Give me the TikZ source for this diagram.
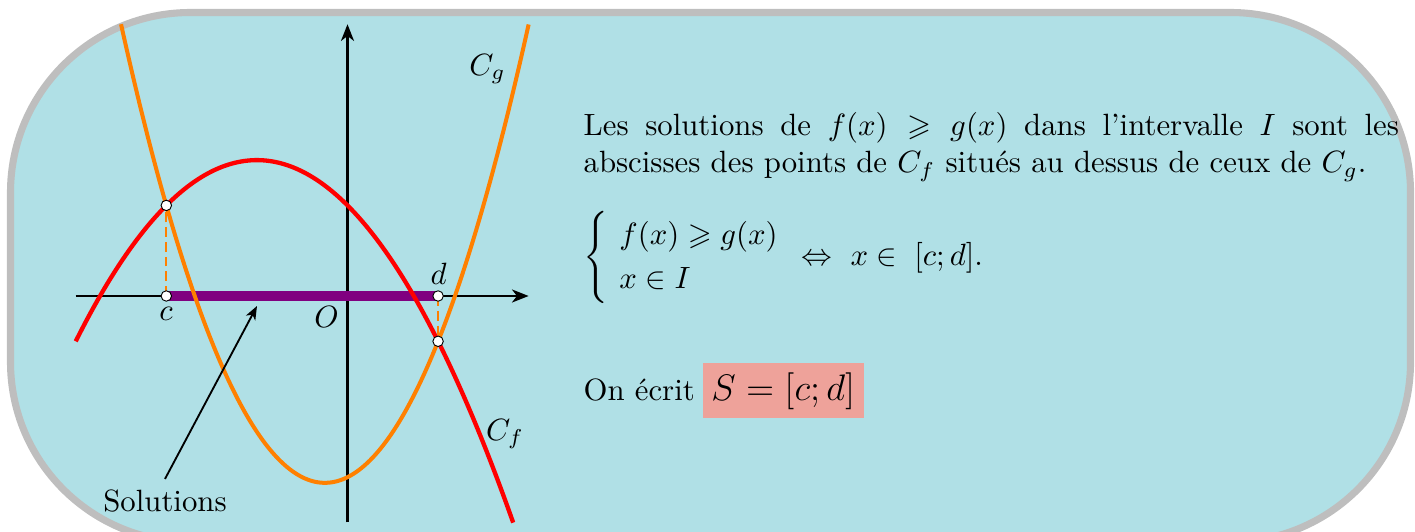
\documentclass[tikz,border=0pt]{standalone}
\usepackage{amssymb}
\usepackage{fontspec}
\usetikzlibrary{arrows.meta}
\definecolor{powder}{RGB}{176,224,230}
\definecolor{framegray}{RGB}{190,190,190}
\definecolor{cgorange}{RGB}{255,128,0}
\definecolor{cfred}{RGB}{255,0,0}
\definecolor{barpurple}{RGB}{128,0,128}
\definecolor{salmonbox}{RGB}{238,162,154}
\begin{document}
\begin{tikzpicture}[x=0.325pt,y=-0.325pt,
  frame/.style={draw=framegray,fill=powder,line width=2.3pt,rounded corners=58.5pt},
  axis/.style={line width=0.9pt,-{Stealth[length=5.4pt,width=4.2pt,inset=1.6pt]}},
  solbar/.style={draw=barpurple,line width=3.3pt},
  cgcurve/.style={draw=cgorange,line width=1.3pt},
  cfcurve/.style={draw=cfred,line width=1.4pt},
  guide/.style={draw=cgorange,line width=0.65pt,dash pattern=on 3.2pt off 1.6pt},
  ptdot/.style={circle,draw=black,fill=white,line width=0.3pt,minimum size=3.4pt,inner sep=0pt},
  solarrow/.style={line width=0.6pt,-{Stealth[length=4.4pt,width=3.4pt,inset=1.2pt]}},
  lbl/.style={inner sep=0pt}]
\useasboundingbox (0,0) rectangle (1415,532);
\clip (0,0) rectangle (1415,532);
\draw[frame] (10.5,12.5) rectangle (1410.5,542);
\begin{scope}[shift={(347.5,296)}]
\begin{scope}[x=14.72pt,y=14.72pt]
  \coordinate (xl) at (-6,0);
  \coordinate (xr) at (4,0);
  \coordinate (yb) at (0,-5);
  \coordinate (yt) at (0,6);
  \coordinate (cA) at (-4,0);
  \coordinate (dA) at (2,0);
  \coordinate (cI) at (-4,2);
  \coordinate (dI) at (2,-1);
  \draw[axis] (xl) -- (xr);
  \draw[axis] (yb) -- (yt);
  \draw[solbar] (cA) -- (dA);
  \draw[cgcurve] plot[domain=-5:4,samples=150,smooth] (\x,{0.5*(\x+0.5)^2-4.125});
  \draw[cfcurve] plot[domain=-6:3.66,samples=150,smooth] (\x,{3-(\x+2)^2/4});
  \draw[guide] (cA) -- (cI);
  \draw[guide] (dA) -- (dI);
  \node[ptdot] (pcA) at (cA) {};
  \node[ptdot] (pdA) at (dA) {};
  \node[ptdot] (pcI) at (cI) {};
  \node[ptdot] (pdI) at (dI) {};
\end{scope}
\end{scope}
\node[lbl] (lCg) at (487.5,69) {$C_g$};
\node[lbl] (lCf) at (505,434) {$C_f$};
\node[lbl] (lc) at (166,314) {$c$};
\node[lbl] (ld) at (438.6,274) {$d$};
\node[lbl] (lO) at (326.5,317) {$O$};
\node (sol) at (165,501) {Solutions};
\coordinate (solend) at (257,306);
\draw[solarrow] (sol.north) -- (solend);
\node[anchor=north west,inner sep=0pt,text width=265pt,align=justify] (para) at (583,112)
  {\hyphenpenalty=10000 Les solutions de $f(x)\geqslant g(x)$ dans l'intervalle $I$ sont les\linebreak abscisses des points de $C_f$ situés au dessus de ceux de $C_g$.};
\node[anchor=base west,inner sep=0pt] (sys) at (583,265)
  {\setlength{\arraycolsep}{3.6pt}$\renewcommand{\arraystretch}{1.2}\left\{\begin{array}{l} f(x)\geqslant g(x)\\ x\in I\end{array}\right.\Leftrightarrow\ x\in\;[c;d].$};
\node[anchor=base west,inner sep=0pt] (ecrit) at (583,400)
  {On écrit\hspace{2.5pt}\setlength{\fboxsep}{2.9pt}\colorbox{salmonbox}{\large$S=[c;d]$}};
\end{tikzpicture}
\end{document}
